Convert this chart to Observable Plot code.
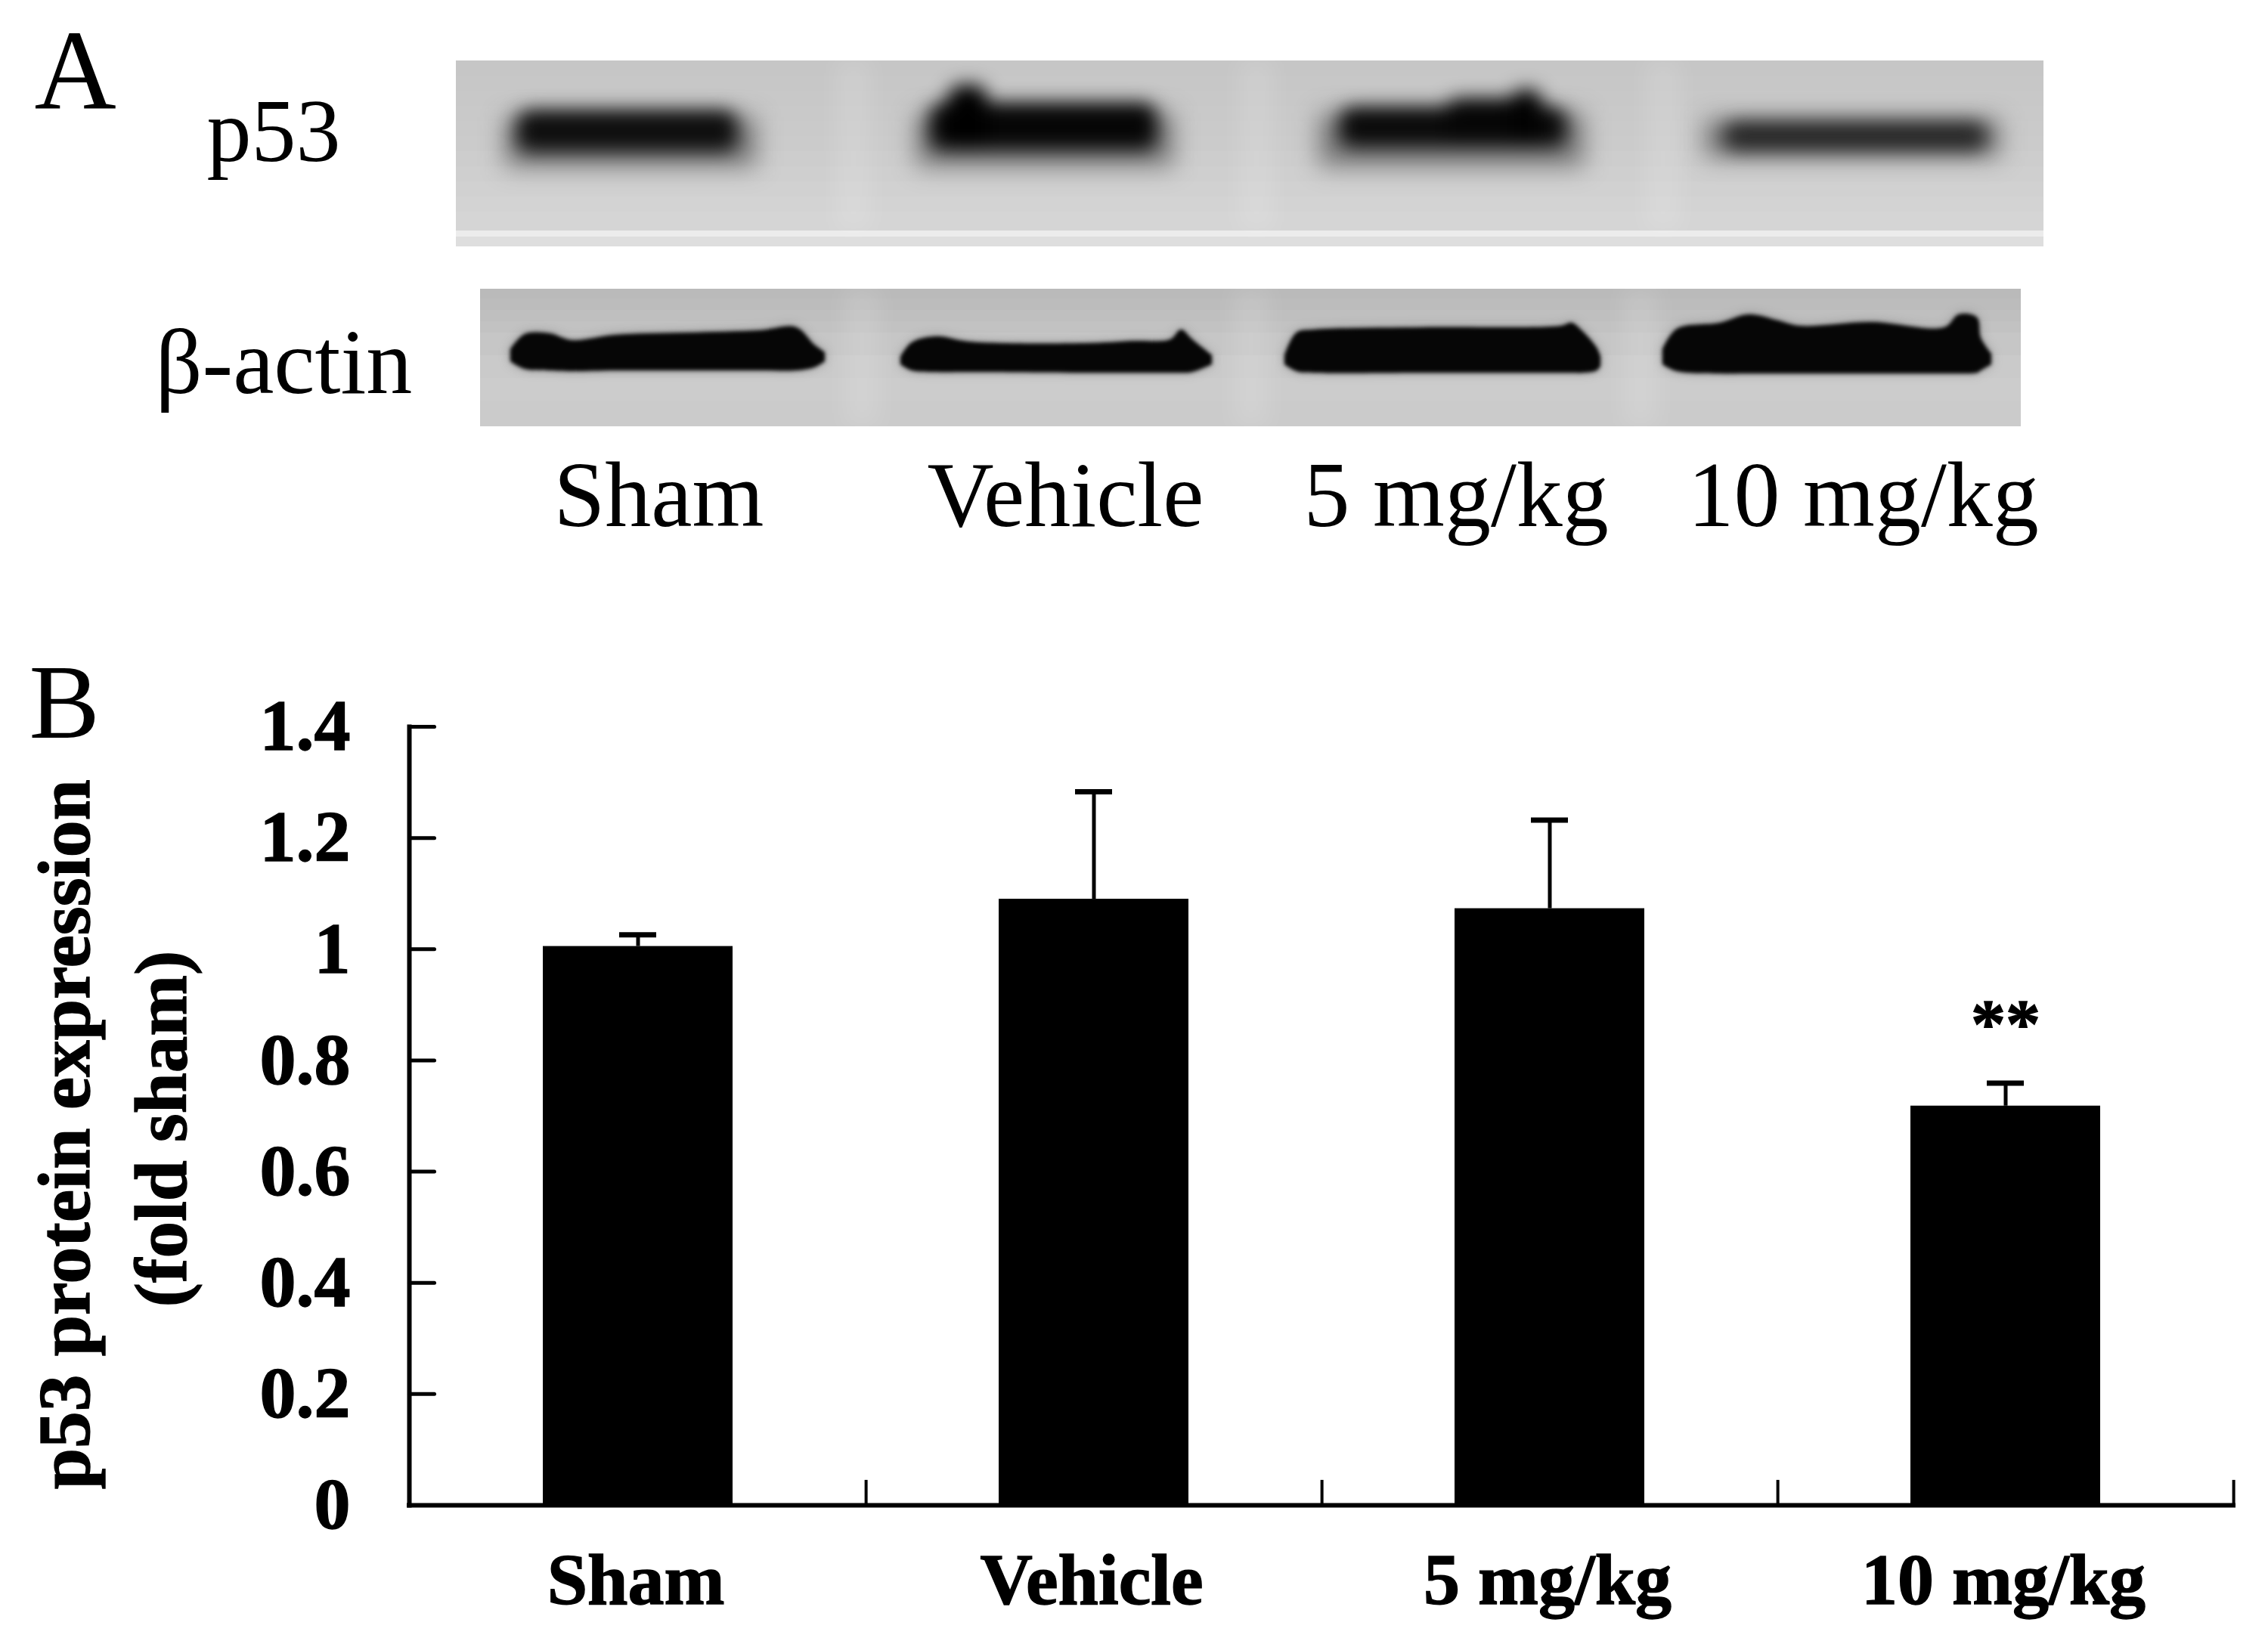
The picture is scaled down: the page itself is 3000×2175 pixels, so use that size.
<!DOCTYPE html>
<html><head><meta charset="utf-8">
<style>html,body{margin:0;padding:0;background:#fff}svg{display:block}
g[font-weight="bold"] text{stroke:#000;stroke-width:1.4px}</style>
<script src="https://cdn.jsdelivr.net/npm/d3@7"></script>
<script src="https://cdn.jsdelivr.net/npm/@observablehq/plot@0.6"></script>
</head><body><div id="a"></div><div id="b"></div>
<script>
// ---- panel B data
const categories = ["Sham","Vehicle","5 mg/kg","10 mg/kg"];
const means = [1.005,1.09,1.073,0.718];
const errorTops = [1.026,1.283,1.232,0.759];
const significance = ["","","","**"];
const yTicks = [0,0.2,0.4,0.6,0.8,1,1.2,1.4];
// ---- panel A data (positions along the gel image)
const blotLabels = ["p53","β-actin"];
const blotLabelX = [273,205];
const blotLabelY = [212,519];
const laneLabelX = [732,1226,1724,2232];
const membraneX1 = [603,635];
const membraneX2 = [2703,2673];
const p53RowY1 = [80,100,120,140,160,180,200,220,240,260,280,305,313];
const p53RowY2 = [100,120,140,160,180,200,220,240,260,280,305,313,326];
const p53RowGrey = [198,199,200,201,202,203,205,207,209,211,213,236,222];
const actinRowY1 = [382,395,410,425,440,470,500,530];
const actinRowY2 = [395,410,425,440,470,500,530,564];
const actinRowGrey = [186,188,191,194,198,202,204,203];
const gapX = [1129,1662,2200,1140,1655,2170];
const gapY1 = [80,80,80,382,382,382];
const gapY2 = [305,305,305,564,564,564];
const coreX1 = [684,1230,1254,1772,1912,1998,2280];
const coreX2 = [975,1530,1306,2072,2040,2040,2628];
const coreY1 = [146,136,112,142,130,118,162];
const coreY2 = [200,198,198,194,194,194,198];
const coreGrey = [14,6,0,10,6,2,36];
const haloX1 = [668,1212,1745,2255];
const haloX2 = [1000,1552,2095,2645];
const haloY1 = [155,150,150,158];
const haloY2 = [220,220,220,208];
const actinLane = [0,0,0,0,0,0,0,0,0,0, 1,1,1,1,1,1,1,1,1,1, 2,2,2,2,2,2,2,2,2, 3,3,3,3,3,3,3,3,3,3,3,3];
const actinX = [675,694,727,756,813,909,1005,1053,1077,1091, 1191,1206,1239,1282,1435,1500,1548,1562,1577,1603, 1699,1715,1739,1883,2065,2079,2093,2112,2117, 2199,2218,2275,2313,2352,2380,2476,2572,2591,2615,2620,2634];
const actinTop = [462,442,441,450,443,440,437,433,456,466, 472,453,445,452,454,451,449,436,449,470, 470,440,436,433,431,427,438,460,472, 462,435,427,416,424,431,426,433,416,420,447,468];
const actinBottom = [478,488,490,491,490,490,490,490,486,478, 482,490,492,492,493,493,493,493,492,482, 482,491,493,493,493,493,493,490,484, 482,491,494,494,494,494,494,494,494,493,490,482];

const serif = "'Liberation Serif','Times New Roman',serif";
const rows = (y1,y2,grey,x1,x2)=>y1.map((v,i)=>({y1:v,y2:y2[i],fill:`rgb(${grey[i]},${grey[i]},${grey[i]})`,x1,x2}));
const core = coreX1.map((v,i)=>({x1:v,x2:coreX2[i],y1:coreY1[i],y2:coreY2[i],fill:`rgb(${coreGrey[i]},${coreGrey[i]},${coreGrey[i]})`}));
const halo = haloX1.map((v,i)=>({x1:v,x2:haloX2[i],y1:haloY1[i],y2:haloY2[i]}));
const gaps = gapX.map((v,i)=>({x1:v-24,x2:v+24,y1:gapY1[i],y2:gapY2[i]}));
const actin = actinX.map((v,i)=>({x:v,y1:actinTop[i],y2:actinBottom[i],lane:actinLane[i]}));

const panelA = Plot.plot({
  width:3000,height:800,margin:0,
  x:{domain:[0,3000],range:[0,3000],axis:null},
  y:{domain:[0,800],range:[0,800],axis:null},
  style:{fontFamily:serif,background:"#fff",color:"#000"},
  marks:[
    Plot.rect(rows(p53RowY1,p53RowY2,p53RowGrey,membraneX1[0],membraneX2[0]),{x1:"x1",x2:"x2",y1:"y1",y2:"y2",fill:"fill"}),
    Plot.rect(rows(actinRowY1,actinRowY2,actinRowGrey,membraneX1[1],membraneX2[1]),{x1:"x1",x2:"x2",y1:"y1",y2:"y2",fill:"fill"}),
    Plot.rect(gaps,{x1:"x1",x2:"x2",y1:"y1",y2:"y2",fill:"#fff",fillOpacity:0.13,imageFilter:"blur(14px)"}),
    Plot.rect(halo,{x1:"x1",x2:"x2",y1:"y1",y2:"y2",fill:"#333",fillOpacity:0.55,imageFilter:"blur(16px)"}),
    Plot.rect(core,{x1:"x1",x2:"x2",y1:"y1",y2:"y2",fill:"fill",r:18,imageFilter:"blur(12px)"}),
    Plot.areaY(actin,{x:"x",y1:"y1",y2:"y2",z:"lane",fill:"#555",fillOpacity:0.5,curve:"catmull-rom",imageFilter:"blur(7px)"}),
    Plot.areaY(actin,{x:"x",y1:"y1",y2:"y2",z:"lane",fill:"#060606",curve:"catmull-rom",imageFilter:"blur(2.5px)"}),
    Plot.text(["A"],{frameAnchor:"top-left",dx:45,dy:142,lineAnchor:"bottom",textAnchor:"start",fontSize:150,fill:"#000"}),
    Plot.text(blotLabels,{x:(d,i)=>blotLabelX[i],y:(d,i)=>blotLabelY[i],textAnchor:"start",lineAnchor:"bottom",fontSize:d=>d==="p53"?118:122,fill:"#000"}),
    Plot.text(categories,{x:(d,i)=>laneLabelX[i],y:()=>695,textAnchor:"start",lineAnchor:"bottom",fontSize:122,fill:"#000"})
  ]
});
document.getElementById("a").append(panelA);

const table = categories.map((c,i)=>({c,mean:means[i],top:errorTops[i],sig:significance[i]}));
const bandStep = (2954-541)/4;
const tickShape = {draw(ctx,l){ctx.moveTo(0,0);ctx.lineTo(0,-l);}};
const panelB = Plot.plot({
  width:3000,height:1375,
  marginLeft:541,marginRight:46,marginTop:161,marginBottom:184,
  x:{domain:categories,padding:0,axis:null},
  y:{domain:[0,1.4],axis:null},
  style:{fontFamily:serif,background:"#fff",color:"#000"},
  marks:[
    Plot.barY(table,{x:"c",y:"mean",fill:"#000",insetLeft:176,insetRight:176}),
    Plot.ruleX(table,{x:"c",y1:"mean",y2:"top",stroke:"#000",strokeWidth:5}),
    Plot.tickY(table,{x:"c",y:"top",stroke:"#000",strokeWidth:7,inset:277}),
    Plot.frame({anchor:"left",stroke:"#000",strokeWidth:6,strokeLinecap:"square"}),
    Plot.ruleY([0],{stroke:"#000",strokeWidth:6,strokeLinecap:"square"}),
    Plot.ruleX(categories,{x:d=>d,dx:bandStep/2,y1:0,y2:0.045,stroke:"#000",strokeWidth:4}),
    Plot.vector(yTicks,{y:d=>d,frameAnchor:"left",length:33,rotate:90,anchor:"start",shape:tickShape,stroke:"#000",strokeWidth:5}),
    Plot.axisY(yTicks,{anchor:"left",tickSize:0,tickPadding:78,label:null,fontSize:96,fontWeight:"bold",fill:"#000",tickFormat:d=>String(d)}),
    Plot.axisX(categories,{anchor:"bottom",tickSize:0,tickPadding:62,dx:-3,label:null,fontSize:96,fontWeight:"bold",fill:"#000"}),
    Plot.text(table,{x:"c",y:()=>0.865,text:"sig",fontSize:92,fontWeight:"bold",fill:"#000"}),
    Plot.text(["p53 protein expression"],{frameAnchor:"left",y:()=>0.667,dx:-424,rotate:-90,textAnchor:"middle",lineAnchor:"bottom",fontSize:97.5,fontWeight:"bold",fill:"#000"}),
    Plot.text(["(fold sham)"],{frameAnchor:"left",y:()=>0.677,dx:-296,rotate:-90,textAnchor:"middle",lineAnchor:"bottom",fontSize:97,fontWeight:"bold",fill:"#000"}),
    Plot.text(["B"],{frameAnchor:"left",y:()=>1.38,dx:-503,lineAnchor:"bottom",textAnchor:"start",fontSize:140,fill:"#000"})
  ]
});
document.getElementById("b").append(panelB);
</script></body></html>
